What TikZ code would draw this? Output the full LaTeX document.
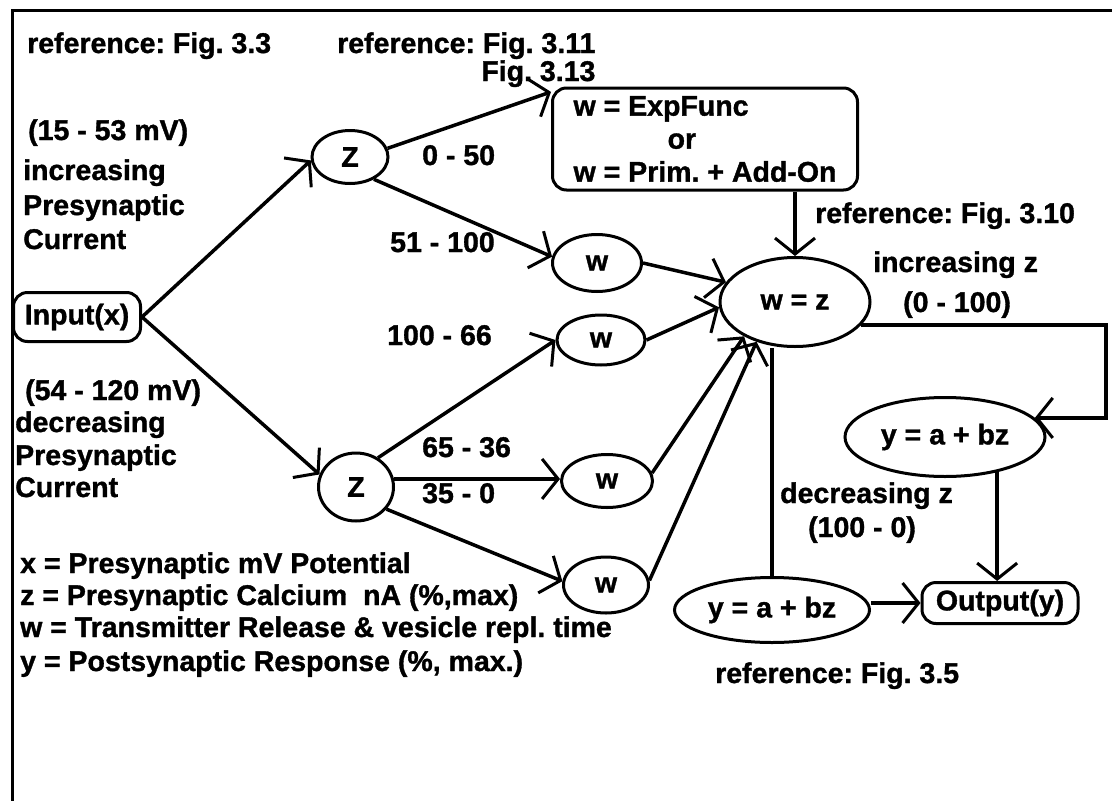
\documentclass[tikz,border=0pt]{standalone}
\usepackage{fontspec}
\setmainfont{Liberation Sans}[BoldFeatures={FakeBold=1.2}]
\usetikzlibrary{shapes.geometric,arrows.meta}
\frenchspacing
\begin{document}
\begin{tikzpicture}[x=1pt,y=-1pt,
  every node/.style={font=\fontsize{28.5}{33}\selectfont\bfseries},
  lbl/.style={anchor=base west,inner sep=0pt},
  ell/.style={draw,ellipse,line width=3pt,inner sep=0pt},
  rbox/.style={draw,rectangle,rounded corners=14pt,line width=3pt,inner sep=0pt},
  conn/.style={line width=3.5pt},
  arr/.style={conn,-{Straight Barb[length=16pt,width=40pt,line width=3pt]}}]
\useasboundingbox (0,0) rectangle (1112,801);
\draw[line width=3pt] (12,801) -- (12,10) -- (1112,10);

% nodes
\node[rbox,minimum width=127pt,minimum height=49pt] (inp) at (77,317) {Input(x)};
\node[ell,minimum width=76pt,minimum height=53pt] (z1) at (350,157) {Z};
\node[ell,minimum width=75pt,minimum height=68pt] (z2) at (356,487) {Z};
\node[rbox,minimum width=305pt,minimum height=102pt,align=left] (box) at (705,139)
  {w = ExpFunc\\\hspace*{3.3em}or\\w = Prim. + Add-On};
\node[ell,minimum width=89pt,minimum height=57pt] (w1) at (597,263) {w};
\node[ell,minimum width=88pt,minimum height=50pt] (w2) at (601,340) {w};
\node[ell,minimum width=91pt,minimum height=53pt] (w3) at (607,481) {w};
\node[ell,minimum width=85pt,minimum height=56pt] (w4) at (606,585) {w};
\node[ell,minimum width=150pt,minimum height=89pt] (wz) at (795,302) {w = z};
\node[ell,minimum width=200pt,minimum height=79pt] (y1) at (945,437) {y = a + bz};
\node[ell,minimum width=195pt,minimum height=65pt] (y2) at (772,610) {y = a + bz};
\node[rbox,minimum width=156pt,minimum height=41pt] (out) at (1000,603) {Output(y)};

% labels
\node[lbl] (t33) at (27,53) {reference: Fig. 3.3};
\node[lbl] (t311) at (337,53) {reference: Fig. 3.11};
\node[anchor=base east,inner sep=0pt] (t313) at ([yshift=-28pt]t311.base east) {Fig. 3.13};
\node[lbl] (mv1) at (28,140) {(15 - 53 mV)};
\node[lbl] (inc1) at (23,180) {increasing};
\node[lbl] (pre1) at (23,215) {Presynaptic};
\node[lbl] (cur1) at (23,249) {Current};
\node[lbl] (mv2) at (25,400) {(54 - 120 mV)};
\node[lbl] (dec2) at (15,432) {decreasing};
\node[lbl] (pre2) at (15,465) {Presynaptic};
\node[lbl] (cur2) at (15,497) {Current};
\node[lbl] (r050) at (422,165) {0 - 50};
\node[lbl] (r51) at (390,252) {51 - 100};
\node[lbl] (r100) at (387,345) {100 - 66};
\node[lbl] (r65) at (422,457) {65 - 36};
\node[lbl] (r35) at (422,503) {35 - 0};
\node[lbl] (t310) at (815,223) {reference: Fig. 3.10};
\node[lbl] (incz) at (873,272) {increasing z};
\node[lbl] (r0100) at (903,312) {(0 - 100)};
\node[lbl] (decz) at (780,503) {decreasing z};
\node[lbl] (r1000) at (808,537) {(100 - 0)};
\node[lbl] (t35) at (715,683) {reference: Fig. 3.5};
\node[lbl] (leg1) at (20,573) {x = Presynaptic mV Potential};
\node[lbl] (leg2) at (20,605) {z = Presynaptic Calcium\ \ nA (\%,max)};
\node[lbl] (leg3) at (20,637) {w = Transmitter Release \& vesicle repl. time};
\node[lbl] (leg4) at (20,671) {y = Postsynaptic Response (\%, max.)};

% connectors
\draw[arr] (inp.east) -- (z1.185);
\draw[arr] (inp.east) -- (z2.161);
\draw[arr] (z1.13) -- (box.163);
\draw[arr] (z1.-43) -- (w1.172);
\draw[arr] (z2.53) -- (w2.west);
\draw[arr] (z2.12) -- (z2.12 -| w3.west);
\draw[arr] (z2.-36) -- (w4.175);
\draw[arr] (w1.east) -- (wz.164);
\draw[arr] (w2.east) -- (wz.184);
\draw[arr] (w3.10) -- (wz.214);
\draw[arr] (w4.6) -- (wz.226);
\draw[arr] (box.south -| wz.north) -- (wz.north);
\coordinate (rc) at (1106,0);
\draw[arr] (wz.-19) -- (wz.-19 -| rc) -- (rc |- y1.12) -- (y1.12);
\draw[conn] (wz.south -| y2.north) -- (y2.north);
\draw[arr] (y1.-34.4) -- (y1.-34.4 |- out.north);
\draw[arr] (y2.east |- out.west) -- (out.west);
\end{tikzpicture}
\end{document}
